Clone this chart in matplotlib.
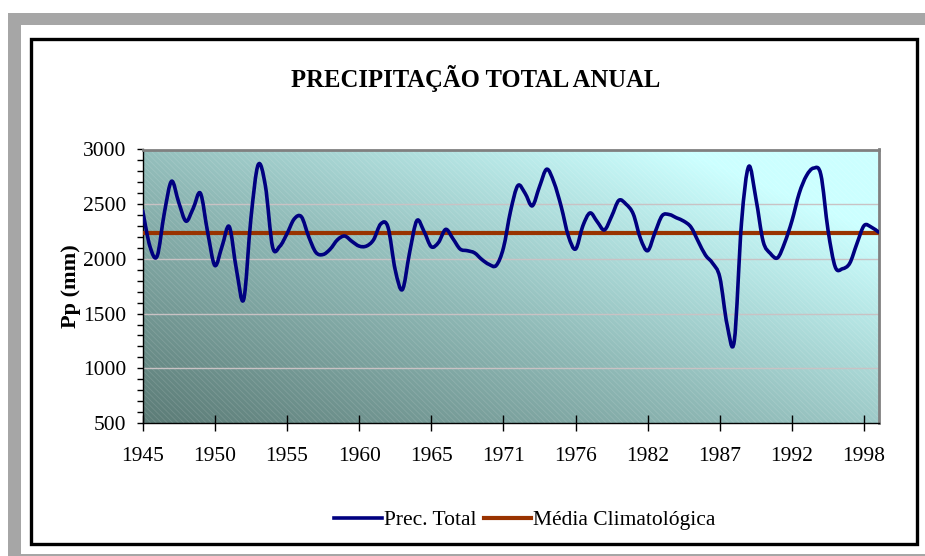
import numpy as np
import matplotlib
matplotlib.use("Agg")
import matplotlib.pyplot as plt
from matplotlib.patches import Rectangle, PathPatch
from matplotlib.path import Path
from matplotlib.lines import Line2D
from matplotlib.colors import LinearSegmentedColormap
from matplotlib.ticker import MultipleLocator

plt.rcParams['font.family'] = ['Liberation Serif', 'DejaVu Serif']
plt.rcParams['hatch.linewidth'] = 0.6

# ---- data ----
tick_labels = ["1945", "1950", "1955", "1960", "1965", "1971",
               "1976", "1982", "1987", "1992", "1998"]
points_per_label = 10

prec_total = [
    2440, 2115, 2025, 2420, 2710, 2515, 2345, 2462, 2600, 2245,
    1940, 2115, 2295, 1900, 1630, 2370, 2860, 2670, 2110, 2115,
    2230, 2365, 2385, 2205, 2060, 2040, 2090, 2175, 2209, 2160,
    2117, 2117, 2175, 2320, 2290, 1900, 1720, 2060, 2350, 2250,
    2111, 2150, 2270, 2185, 2090, 2075, 2055, 1995, 1950, 1940,
    2100, 2440, 2670, 2600, 2485, 2660, 2820, 2700, 2480, 2210,
    2090, 2300, 2420, 2340, 2265, 2390, 2535, 2500, 2410, 2185,
    2075, 2240, 2395, 2405, 2375, 2345, 2290, 2160, 2035, 1960,
    1830, 1400, 1250, 2330, 2845, 2550, 2160, 2050, 2010, 2150,
    2350, 2600, 2760, 2830, 2770, 2260, 1925, 1910, 1960, 2140,
    2305, 2290, 2245,
]
media_value = 2240
media_climatologica = [media_value] * len(prec_total)

x = np.arange(len(prec_total))

NAVY = '#000080'
BROWN = '#993300'

fig = plt.figure(figsize=(9.25, 5.56), dpi=100)

# ---- outer frames ----
gray = '#a6a6a6'
fig.patches.append(Rectangle((8/925, (556-25)/556), 1-8/925, 12.3/556,
                             transform=fig.transFigure, facecolor=gray, edgecolor='none', zorder=0))
fig.patches.append(Rectangle((8/925, 0), 13/925, (556-12.7)/556,
                             transform=fig.transFigure, facecolor=gray, edgecolor='none', zorder=0))
fig.patches.append(Rectangle((8/925, 0), 1-8/925, 2.5/556,
                             transform=fig.transFigure, facecolor=gray, edgecolor='none', zorder=0))
fig.patches.append(Rectangle((31/925, (556-543.5)/556), (917-31)/925, (543.5-38.5)/556,
                             transform=fig.transFigure, facecolor='white', edgecolor='black',
                             linewidth=2.4, zorder=1))

ax = fig.add_axes([142.7/925, (556-423)/556, (879.3-142.7)/925, (423-149.5)/556])
ax.set_zorder(2)

# ---- gradient background ----
cmap = LinearSegmentedColormap.from_list('bg', ['#5c7c77', '#8fb9b6', '#ccffff'])
gx, gy = np.meshgrid(np.linspace(0, 1, 300), np.linspace(0, 1, 200))
grad = np.clip(0.62 * gx + 0.55 * gy, 0, 1)
ax.imshow(grad, extent=[0, 1, 0, 1], transform=ax.transAxes, origin='lower',
          cmap=cmap, aspect='auto', zorder=0, interpolation='bilinear')
ax.add_patch(Rectangle((0, 0), 1, 1, transform=ax.transAxes, facecolor='none',
                       edgecolor=(1, 1, 1, 0.13), hatch='\\\\\\\\\\\\', linewidth=0, zorder=0.5))

# ---- grid ----
for gv in [1000, 1500, 2000, 2500]:
    ax.axhline(gv, color='#c9c2c4', linewidth=1.0, zorder=1)

# ---- lines ----
ax.plot(x, media_climatologica, color=BROWN, linewidth=3.0, zorder=3, solid_capstyle='butt')

# smoothed rendering (Bezier handles, like a spreadsheet "smoothed line")
xs = np.asarray(x, dtype=float)
ys = np.asarray(prec_total, dtype=float)
verts = [(xs[0], ys[0])]
codes = [Path.MOVETO]
t = 1.0 / 6.0
for i in range(len(xs) - 1):
    p0 = i - 1 if i > 0 else i
    p3 = i + 2 if i + 2 < len(xs) else i + 1
    c1 = (xs[i] + (xs[i + 1] - xs[p0]) * t, ys[i] + (ys[i + 1] - ys[p0]) * t)
    c2 = (xs[i + 1] - (xs[p3] - xs[i]) * t, ys[i + 1] - (ys[p3] - ys[i]) * t)
    verts += [c1, c2, (xs[i + 1], ys[i + 1])]
    codes += [Path.CURVE4] * 3
ax.add_patch(PathPatch(Path(verts, codes), facecolor='none', edgecolor=NAVY,
                       linewidth=2.6, zorder=4, joinstyle='round', capstyle='round'))

ax.set_xlim(0, len(prec_total) - 1 + 0.1)
ax.set_ylim(500, 3000)

ax.set_xticks(np.arange(0, len(tick_labels) * points_per_label, points_per_label))
ax.set_xticklabels(tick_labels)
ax.yaxis.set_major_locator(MultipleLocator(500))
ax.yaxis.set_minor_locator(MultipleLocator(100))

ax.tick_params(axis='x', direction='inout', length=11, width=1, pad=12, labelsize=15.5, colors='black')
ax.tick_params(axis='y', which='both', direction='out', length=4, width=1, pad=8, labelsize=15.5)

for s in ['top', 'right']:
    ax.spines[s].set_color('#808080')
    ax.spines[s].set_linewidth(2)
for s in ['left', 'bottom']:
    ax.spines[s].set_color('black')
    ax.spines[s].set_linewidth(1)

ax.set_ylabel('Pp (mm)', fontsize=16, fontweight='bold', labelpad=1)

fig.text(475.5/925, (556-78)/556, 'PRECIPITAÇÃO TOTAL ANUAL', ha='center', va='center',
         fontsize=17.7, fontweight='bold')

handles = [Line2D([], [], color=NAVY, linewidth=2.6), Line2D([], [], color=BROWN, linewidth=3.0)]
labels = ['Prec. Total', 'Média Climatológica']
fig.legend(handles, labels, loc='center', bbox_to_anchor=(525/925, 36/556), ncol=2,
           frameon=False, fontsize=15.5, handlelength=2.2, columnspacing=0.35, handletextpad=0.1)

fig.savefig('out.png', dpi=100)
